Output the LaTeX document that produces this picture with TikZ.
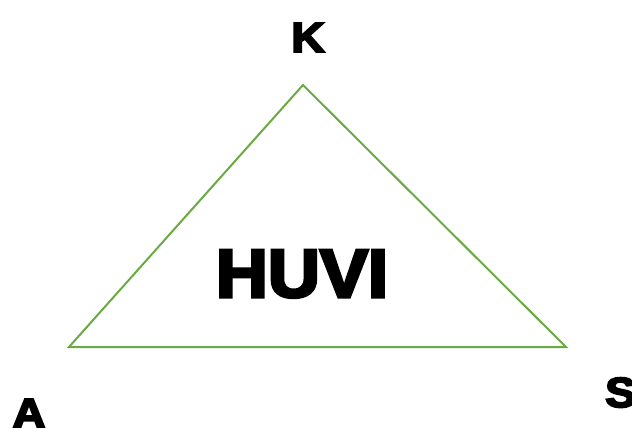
\documentclass[tikz,border=0pt]{standalone}
\usepackage{fontspec}
\setmainfont{Liberation Sans}[BoldFeatures={FakeBold=4.5}]
\definecolor{tri}{RGB}{106,170,66}
\begin{document}
\begin{tikzpicture}[x=1pt,y=-1pt,
  lbl/.style={inner sep=0pt,anchor=base,font=\bfseries\fontsize{42}{42}\selectfont},
  big/.style={inner sep=0pt,anchor=base,font=\bfseries\fontsize{68}{68}\selectfont}]
\useasboundingbox (0,0) rectangle (632,428);
\coordinate (k) at (303,85);
\coordinate (a) at (69,347);
\coordinate (s) at (566,347);
\draw[tri,line width=2pt,line join=miter] (k) -- (a) -- (s) -- cycle;
\node[big,xscale=1.06] (huvi) at (302,297) {HUVI};
\node[lbl,xscale=1.1] (K) at (308,52) {K};
\node[lbl,xscale=1.1] (A) at (29,428) {A};
\node[lbl,xscale=1.1,anchor=base west] (S) at (605,407) {S};
\end{tikzpicture}
\end{document}
